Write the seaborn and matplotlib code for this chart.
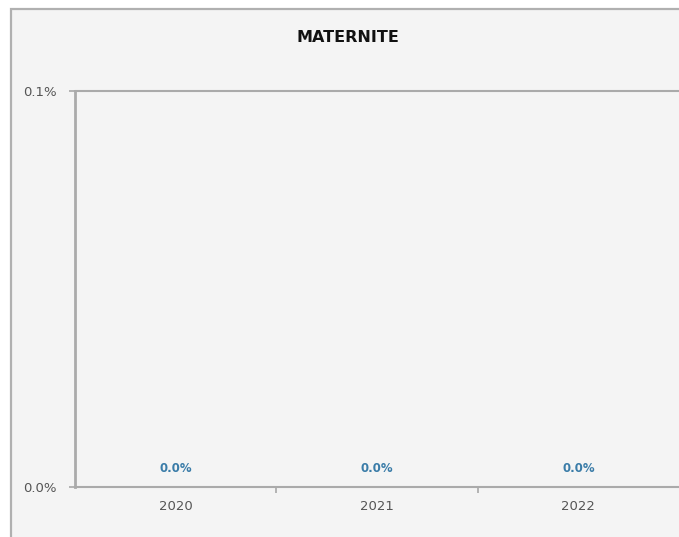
import matplotlib
matplotlib.use("Agg")
import matplotlib.pyplot as plt
import seaborn as sns
import pandas as pd
from matplotlib.patches import Rectangle
from matplotlib.ticker import FixedLocator

years = ["2020", "2021", "2022"]
values = [0.0, 0.0, 0.0]
y_ticks = [0.0, 0.001]
y_tick_labels = ["0.0%", "0.1%"]
title = "MATERNITE"

sns.set_theme(style="white")
plt.rcParams["font.family"] = ["DejaVu Sans"]

W, H = 679, 537
fig = plt.figure(figsize=(W / 100, H / 100), dpi=100, facecolor="white")

# outer chart frame
fig.patches.append(Rectangle((11 / W, -0.05), 1.1, (H - 9) / H + 0.05,
                             transform=fig.transFigure, facecolor="#f4f4f4",
                             edgecolor="#b0b0b0", linewidth=1.6, zorder=-10))

ax = fig.add_axes([75 / W, 50 / H, 604 / W, 396 / H])
ax.set_zorder(5)
ax.set_facecolor("#f4f4f4")

df = pd.DataFrame({"year": years, "value": values})
sns.barplot(data=df, x="year", y="value", color="#3a5f80", width=0.4,
            ax=ax, edgecolor="#3a5f80", linewidth=1)

ax.set_xlim(-0.5, 2.5)
ax.set_ylim(0, 0.001)
ax.set_yticks(y_ticks)
ax.set_yticklabels(y_tick_labels, fontsize=9.5, color="#555555")
ax.set_xticks(range(len(years)))
ax.set_xticklabels(years, fontsize=9.5, color="#555555")
ax.xaxis.set_minor_locator(FixedLocator([0.5, 1.5]))
ax.tick_params(axis="x", which="major", length=0, pad=9)
ax.tick_params(axis="x", which="minor", length=4, width=1.2, color="#a8a8a8", direction="out", bottom=True)
ax.tick_params(axis="y", which="major", length=4, width=1.2, color="#a8a8a8", direction="out", left=True, pad=9)
ax.set_xlabel("")
ax.set_ylabel("")

ax.spines["right"].set_visible(False)
ax.spines["top"].set_visible(False)
ax.axhline(0.001, color="#aaaaaa", linewidth=1.5, zorder=1, clip_on=False)
ax.spines["left"].set_color("#aaaaaa")
ax.spines["left"].set_linewidth(2)
ax.spines["bottom"].set_color("#aaaaaa")
ax.spines["bottom"].set_linewidth(1.5)

for i, v in enumerate(values):
    ax.annotate(f"{v * 100:.1f}%", xy=(i, v), xytext=(0, 9), textcoords="offset points",
                ha="center", va="bottom", fontsize=8.5, fontweight="bold", color="#3a7ca8")

fig.text(348 / W, 1 - 37 / H, title, ha="center", va="center", fontsize=11.5,
         fontweight="bold", color="#111111")

fig.savefig("out.png", dpi=100, facecolor="white")
